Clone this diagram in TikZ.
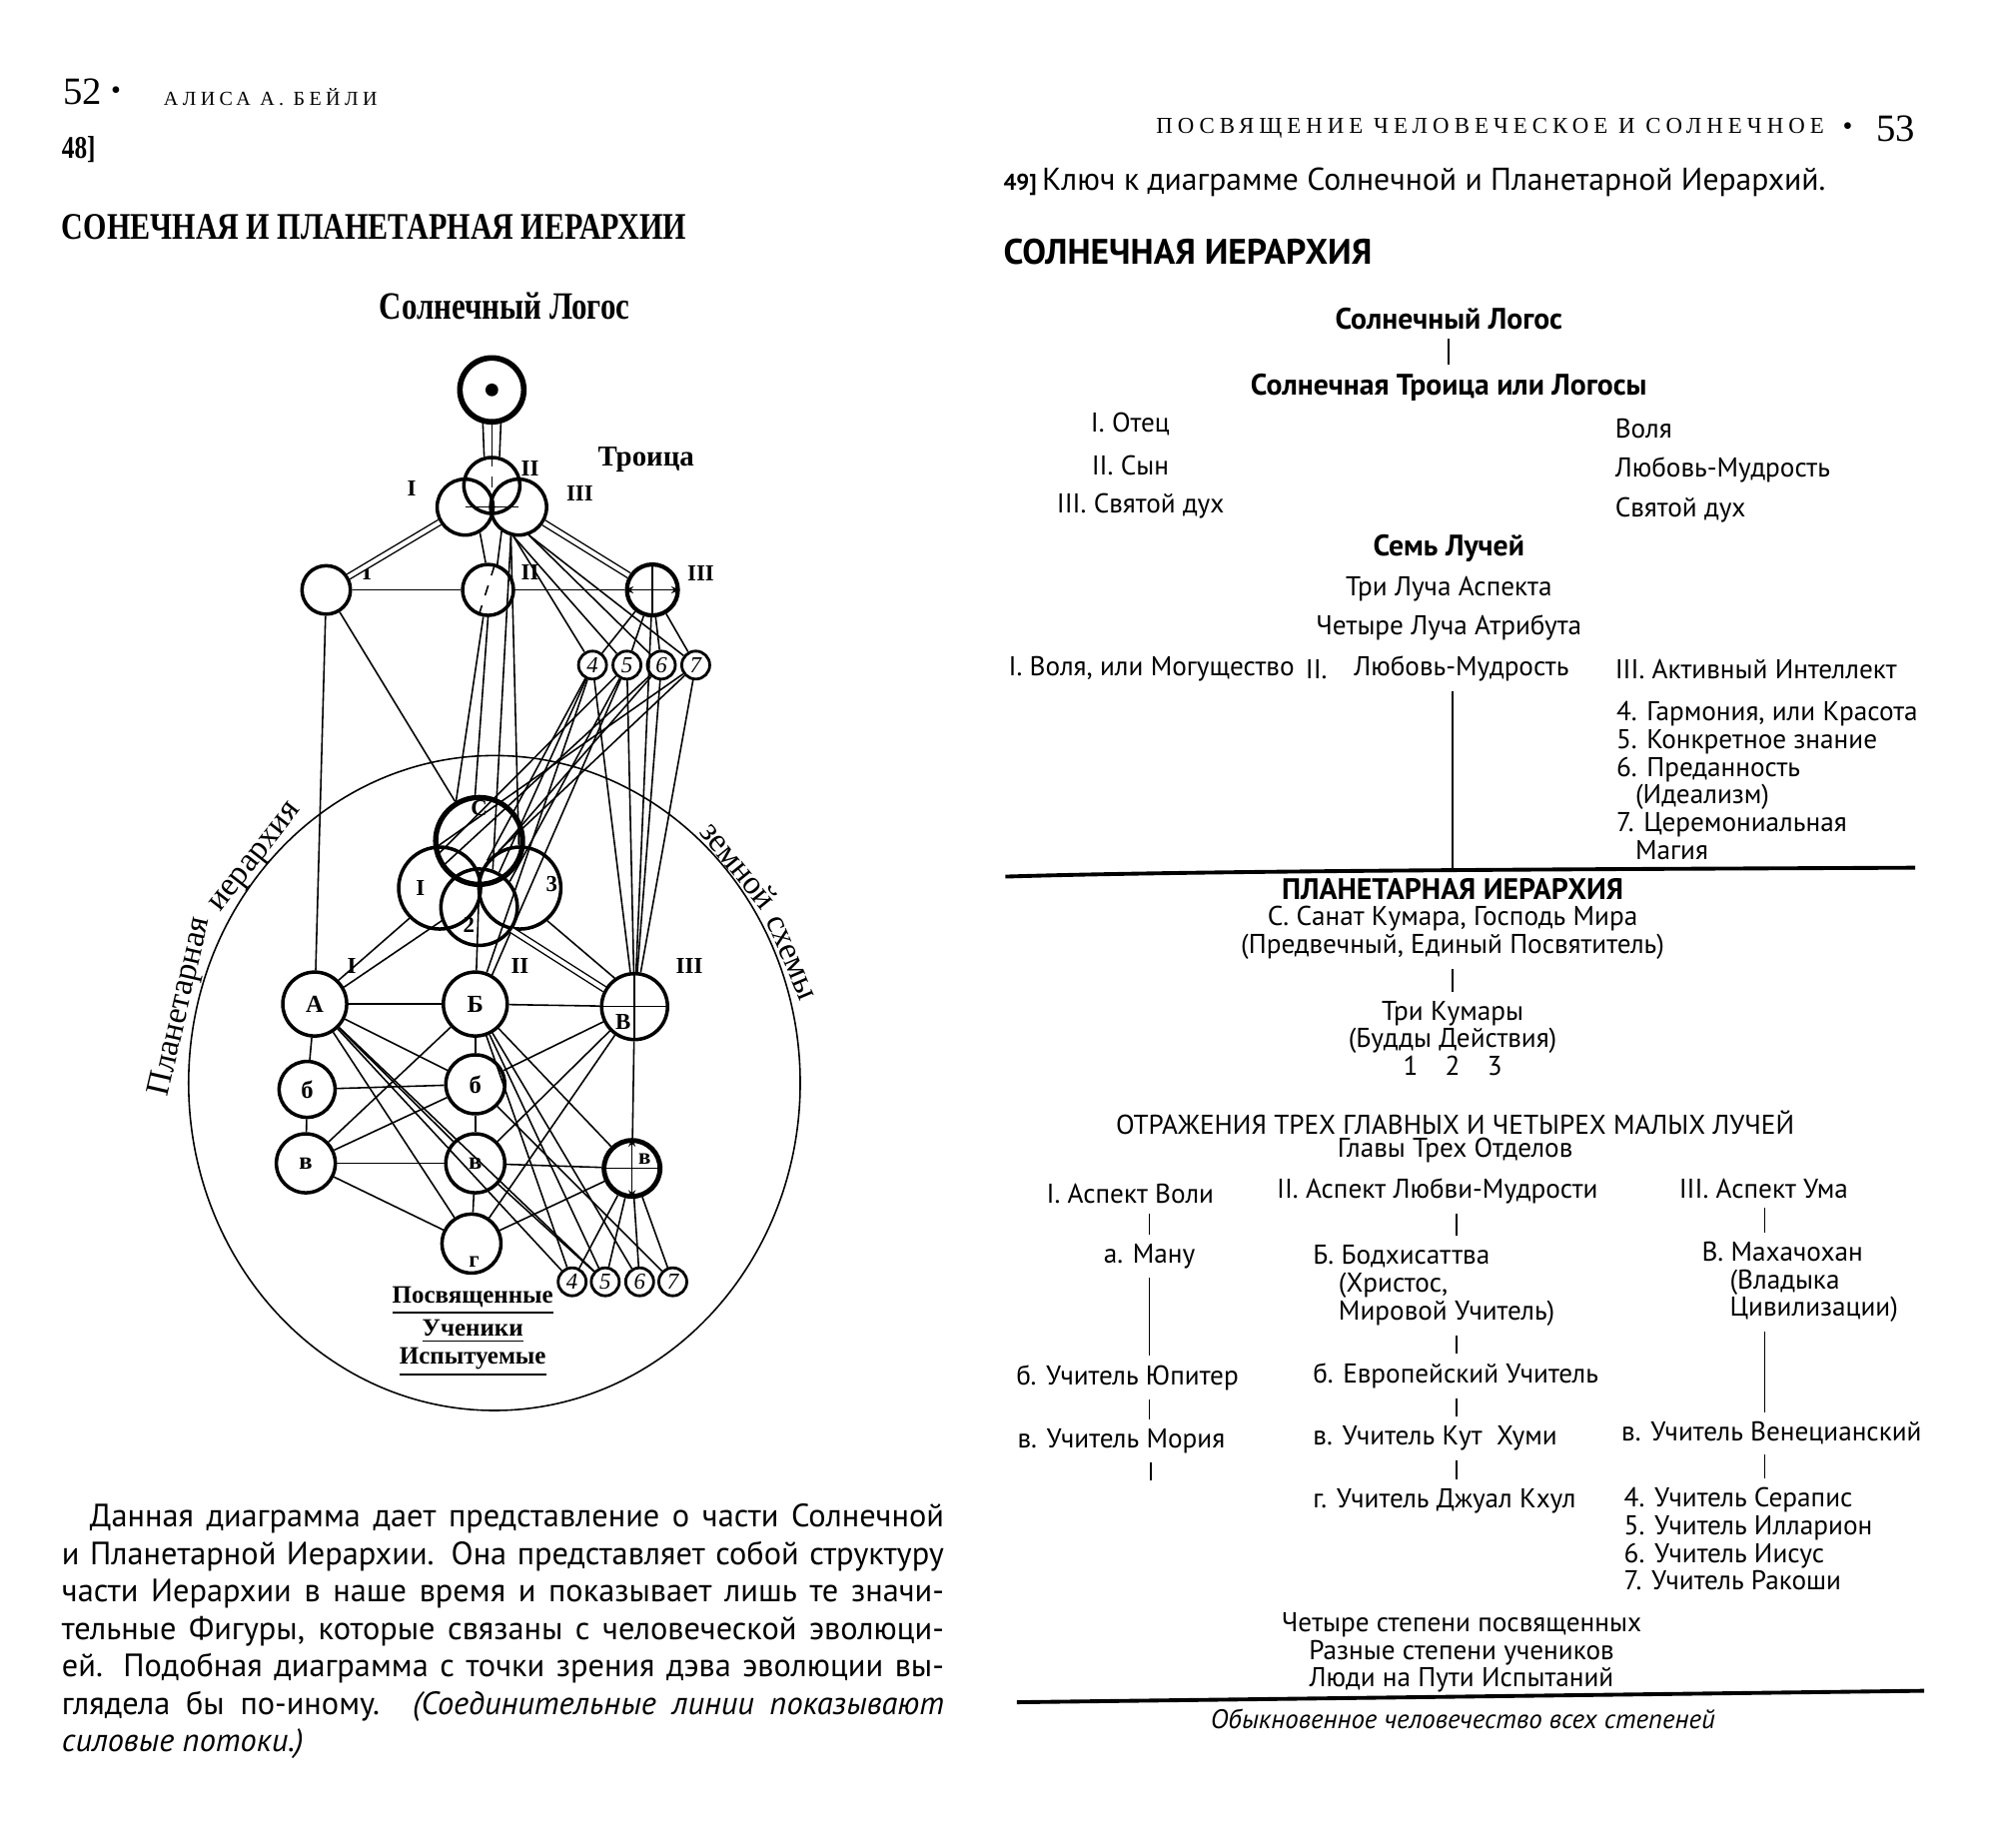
\documentclass[tikz,border=0pt]{standalone}
\usepackage{fontspec}
\setmainfont{PT Sans}
\newfontfamily\serifbook{Liberation Serif}
\newfontfamily\serifnarrow{Liberation Serif}[FakeStretch=0.8]
\newfontfamily\serifspaced{Liberation Serif}[LetterSpace=22]
\usetikzlibrary{arrows.meta,positioning}

\begin{document}
\lineskiplimit=-20pt
\lineskip=0pt
\begin{tikzpicture}[x=0.12755mm, y=-0.12755mm,
    >={Stealth[length=2.5pt,width=2pt]},
    wire/.style={line width=0.45pt},
    twin/.style={double, double distance=1.2pt, line width=0.4pt},
    orb/.style={circle, draw, line width=1pt, inner sep=0pt, font=\serifbook\bfseries\fontsize{7}{8}\selectfont},
    numorb/.style={circle, draw, line width=0.8pt, inner sep=0pt, minimum size=2.8mm, font=\serifbook\itshape\fontsize{6.5}{7}\selectfont},
    tag/.style={inner sep=0pt, font=\serifbook\bfseries\fontsize{6.5}{7}\selectfont},
    arcword/.style={inner sep=0pt, font=\serifbook\fontsize{9.5}{10}\selectfont},
    rtxt/.style={inner sep=0pt, font=\fontsize{7.75}{7.9}\selectfont},
    rbold/.style={inner sep=0pt, font=\bfseries\fontsize{8.45}{8}\selectfont},
    rlink/.style={line width=0.5pt, shorten <=2.5pt, shorten >=2.5pt},
    divider/.style={line width=1.1pt}
]
\fill[white] (0,0) rectangle (1568,1450);
\useasboundingbox (0,0) rectangle (1568,1450);

% ---------- left page: heads
\node[inner sep=0pt, font=\serifbook\fontsize{11}{12}\selectfont] (lPg) at (65,72) {52};
\node[inner sep=0pt, font=\serifbook\fontsize{8}{9}\selectfont] (lBul) at (91,73) {•};
\node[inner sep=0pt, anchor=west, font=\serifspaced\fontsize{5.7}{6}\selectfont] (lRun) at (128,76) {АЛИСА А. БЕЙЛИ};
\node[inner sep=0pt, anchor=west, font=\serifnarrow\bfseries\fontsize{9}{10}\selectfont] (l48) at (48,117) {48]};
\node[inner sep=0pt, anchor=west, font=\serifnarrow\bfseries\fontsize{10.7}{12}\selectfont] (lTitle) at (48,178) {СОНЕЧНАЯ И ПЛАНЕТАРНАЯ ИЕРАРХИИ};
\node[inner sep=0pt, font=\serifnarrow\bfseries\fontsize{11}{12}\selectfont] (lLogos) at (396,240) {Солнечный Логос};

% ---------- left page: the diagram
\draw[wire] (388,850) ellipse [x radius=240, y radius=257];
\node[arcword, rotate=77] (wPlan) at (142,790) {Планетарная};
\node[arcword, rotate=52] (wHier) at (202,674) {иерархия};
\node[arcword, rotate=-51] (wEarth) at (580,679) {земной};
\node[arcword, rotate=-67] (wSch) at (620,752) {схемы};

\node[orb, line width=1.6pt, minimum size=6.4mm] (logos) at (386,306) {};
\fill (logos.center) circle [radius=5];
\node[orb, minimum size=5.6mm] (tII) at (386,381) {};
\node[orb, minimum size=5.6mm] (tI) at (365,398) {};
\node[orb, minimum size=5.6mm] (tIII) at (407,398) {};
\node[orb, minimum size=4.85mm] (hI) at (256,463) {};
\node[orb, minimum size=5.1mm] (hII) at (383,463) {};
\node[orb, line width=1.2pt, minimum size=5.1mm] (hIII) at (512,463) {};
\foreach \n/\x in {4/465,5/492,6/519,7/546}
  \node[numorb] (u\n) at (\x,522) {\n};

\node[orb, line width=1.5pt, minimum size=8.7mm] (sC) at (376,660) {};
\node[orb, minimum size=8.2mm] (s1) at (345,697) {};
\node[orb, minimum size=8.2mm] (s3) at (408,697) {};
\node[orb, minimum size=7.65mm] (s2) at (376,712) {};

\node[orb, minimum size=6.4mm] (mA) at (247,788) {А};
\node[orb, minimum size=6.4mm] (mB) at (373,788) {Б};
\node[orb, minimum size=6.6mm] (mV) at (498,790) {};
\node[orb, minimum size=5.6mm] (lb1) at (241,855) {б};
\node[orb, minimum size=5.9mm] (lb2) at (373,851) {б};
\node[orb, minimum size=5.9mm] (lv1) at (240,913) {в};
\node[orb, minimum size=5.9mm] (lv2) at (373,913) {в};
\node[orb, line width=1.4pt, minimum size=5.6mm] (lv3) at (496,917) {};
\node[orb, minimum size=5.9mm] (lg) at (370,976) {};
\foreach \n/\x in {4/449,5/475,6/502,7/528}
  \node[numorb] (d\n) at (\x,1006) {\n};

% labels in and near the circles
\node[tag] (labC) at (376,634) {С};
\node[tag] (labS1) at (330,697) {I};
\node[tag] (labS3) at (433,694) {3};
\node[tag] (labS2) at (368,726) {2};
\node[tag] (labV) at (489,802) {В};
\node[tag] (labv) at (506,910) {в};
\node[tag] (labg) at (372,990) {г};
\node[tag] (rmA) at (323,383) {I};
\node[tag] (rmB) at (416,368) {II};
\node[tag] (rmC) at (455,387) {III};
\node[inner sep=0pt, font=\serifbook\bfseries\fontsize{8.2}{10}\selectfont] (trio) at (507,361) {Троица};
\node[tag] (rm2A) at (288,449) {I};
\node[tag] (rm2B) at (416,449) {II};
\node[tag] (rm2C) at (550,450) {III};
\node[tag] (rm3A) at (276,758) {I};
\node[tag] (rm3B) at (408,758) {II};
\node[tag] (rm3C) at (541,758) {III};

% upper links
\draw[wire] (logos.255) -- (tII.105);
\draw[wire] (logos.270) -- (tII.90);
\draw[wire] (logos.285) -- (tII.75);
\draw[twin] (tI) -- (hI);
\draw[twin] (tIII) -- (hIII);
\draw[wire] (tI.-60) -- (hII.95);
\draw[wire] (tIII.-125) -- (hII.70);
\draw[wire, dashed] (tII.north) -- (tII.south);
\draw[wire] (tI.center) -- (tIII.center);
\draw[wire, dashed] (hII.-110) -- (hII.75);
\draw[wire] (hI) -- (hII);
\draw[wire] (hII) -- (hIII);
\draw[wire, <->] (hIII.west) -- (hIII.east);
\draw[wire] (hIII.north) -- (hIII.south);
\foreach \n in {4,5,6,7} {
  \draw[wire] (hIII) -- (u\n);
  \draw[wire] (u\n) -- (mV);
}
\draw[wire] (tIII.-100) -- (u4);
\draw[wire] (tIII.-100) -- (u5);
\draw[wire] (tIII.-70) -- (u6);
\draw[wire] (tIII.-70) -- (u7);
\draw[wire] (hIII) -- (mV);
\draw[wire] (hI) -- (mA);
\draw[wire] (hI) -- (sC);
\draw[wire] (hII.-100) -- (sC.120);
\draw[wire] (hII.-90) -- (sC.95);
\draw[wire] (tIII.-105) -- (s2.70);
\draw[wire] (tIII.-105) -- (s3);
\draw[wire] (u4) -- (s2.60);
\draw[wire] (u4) -- (s3.140);
\draw[wire] (u5) -- (sC.200);
\draw[wire] (u5) -- (s2.40);
\draw[wire] (u6) -- (sC.215);
\draw[wire] (u6) -- (s3.160);
\draw[wire] (u7) -- (sC.190);
\draw[wire] (u7) -- (s3.120);
\draw[wire] (mB.70) -- (u4);
\draw[wire] (mB.60) -- (u5);

% middle and lower links
\draw[wire] (mA) -- (mB);
\draw[wire] (mB) -- (mV);
\draw[wire] (mV.west) -- (mV.east);
\draw[wire] (mV.north) -- (mV.south);
\draw[wire] (mA.45) -- (s1.225);
\draw[wire] (mA.30) -- (s2.200);
\draw[wire] (sC.south) -- (mB);
\draw[twin] (s2.-35) -- (mV.150);
\draw[wire] (s3.-50) -- (mV.125);
\draw[wire] (mA) -- (lb1);
\draw[wire] (lb1) -- (lv1);
\draw[wire] (mB) -- (lb2);
\draw[wire] (lb2) -- (lv2);
\draw[wire] (lv2) -- (lg);
\draw[wire] (mV) -- (lv3);
\draw[wire] (lb1) -- (lb2);
\draw[wire] (lv1) -- (lv2);
\draw[wire] (lv2) -- (lv3);
\draw[wire, <->] (lv3.north) -- (lv3.south);
\draw[wire] (lv3.west) -- (lv3.east);
\foreach \t in {lb2,lv2,lg,d4,d5}
  \draw[wire] (mA) -- (\t);
\foreach \t in {lv1,lv3,d4,d5,d6}
  \draw[wire] (mB) -- (\t);
\foreach \t in {lb2,lv2,lg}
  \draw[wire] (mV) -- (\t);
\draw[wire] (lb2) -- (lv1);
\draw[wire] (lv1) -- (lg);
\draw[wire] (lb2) -- (d7);
\draw[wire] (lv2) -- (d5);
\draw[wire] (lv3) -- (lg);
\foreach \n in {4,5,6,7}
  \draw[wire] (lv3) -- (d\n);

\node[inner sep=0pt, font=\serifbook\bfseries\fontsize{7.1}{9}\selectfont] (gInit) at (371,1021) {\underline{Посвященные}};
\node[inner sep=0pt, font=\serifbook\bfseries\fontsize{7.1}{9}\selectfont] (gDisc) at (371,1045) {\underline{Ученики}};
\node[inner sep=0pt, font=\serifbook\bfseries\fontsize{7.1}{9}\selectfont] (gProb) at (371,1069) {\underline{Испытуемые}};

% ---------- left page: note
\node[inner sep=0pt, anchor=north west, align=left, font=\fontsize{9.2}{10.65}\selectfont] (note) at (48,1180) {%
\makebox[88.3mm][s]{\hspace*{2.8mm}Данная диаграмма дает представление о части Солнечной}\\
\makebox[88.3mm][s]{и Планетарной Иерархии. Она представляет собой структуру}\\
\makebox[88.3mm][s]{части Иерархии в наше время и показывает лишь те значи-}\\
\makebox[88.3mm][s]{тельные Фигуры, которые связаны с человеческой эволюци-}\\
\makebox[88.3mm][s]{ей. Подобная диаграмма с точки зрения дэва эволюции вы-}\\
\makebox[88.3mm][s]{глядела бы по-иному. \textit{(Соединительные линии показывают}}\\
\textit{силовые потоки.)}};

% ---------- right page
\node[inner sep=0pt, anchor=east, font=\serifspaced\fontsize{6.5}{7}\selectfont] (rRun) at (1432,101) {ПОСВЯЩЕНИЕ ЧЕЛОВЕЧЕСКОЕ И СОЛНЕЧНОЕ};
\node[inner sep=0pt, font=\serifbook\fontsize{8}{9}\selectfont] (rBul) at (1450,101) {•};
\node[inner sep=0pt, font=\serifbook\fontsize{11}{12}\selectfont] (rPg) at (1488,101) {53};
\node[inner sep=0pt, anchor=west, font=\fontsize{9}{10}\selectfont] (rKey) at (787,143) {{\bfseries\fontsize{6.5}{7}\selectfont 49]}\,Ключ к диаграмме Солнечной и Планетарной Иерархий.};
\node[inner sep=0pt, anchor=west, font=\bfseries\fontsize{10.1}{11}\selectfont] (rTitle) at (787,198) {СОЛНЕЧНАЯ ИЕРАРХИЯ};

\node[rbold] (rLogos) at (1137,250) {Солнечный Логос};
\node[rbold] (rTriad) at (1137,304) {Солнечная Троица или Логосы};
\draw[rlink] (rLogos) -- (rTriad);
\node[rtxt] (rFather) at (887,333) {I. Отец};
\node[rtxt] (rSon) at (887,365) {II. Сын};
\node[rtxt] (rGhost) at (895,397) {III. Святой дух};
\node[rtxt, anchor=west] (rWill) at (1267,336) {Воля};
\node[rtxt, anchor=west] (rWisdom) at (1267,369) {Любовь-Мудрость};
\node[rtxt, anchor=west] (rSpirit) at (1267,400) {Святой дух};
\node[rbold] (rSeven) at (1137,430) {Семь Лучей};
\node[rtxt] (rAspect) at (1137,462) {Три Луча Аспекта};
\node[rtxt] (rAttr) at (1137,493) {Четыре Луча Атрибута};
\node[rtxt, anchor=west] (rRay1) at (791,525) {I. Воля, или Могущество};
\node[rtxt, anchor=west] (rRay2) at (1024,525) {II.};
\node[rtxt, anchor=west] (rLove) at (1062,525) {Любовь-Мудрость};
\node[rtxt, anchor=west] (rRay3) at (1267,525) {III. Активный Интеллект};
\node[rtxt, anchor=north west, align=left] (rMinor) at (1268,550) {4. Гармония, или Красота\\5. Конкретное знание\\6. Преданность\\\hspace*{1.9mm}(Идеализм)\\7. Церемониальная\\\hspace*{1.9mm}Магия};

\coordinate (divL) at (789,688);
\coordinate (divR) at (1503,681);
\coordinate (stem) at (1140,684);
\draw[divider] (divL) .. controls (950,683) and (1300,682) .. (divR);
\draw[line width=0.5pt, shorten <=2.5pt] (rLove.south -| stem) -- (stem);

\node[rbold] (rPlan) at (1140,698) {ПЛАНЕТАРНАЯ ИЕРАРХИЯ};
\node[rtxt] (rSanat) at (1140,721) {С. Санат Кумара, Господь Мира};
\node[rtxt] (rEternal) at (1140,743) {(Предвечный, Единый Посвятитель)};
\node[rtxt, align=center] (rKumar) at (1140,815) {Три Кумары\\(Будды Действия)\\1\quad 2\quad 3};
\draw[rlink] (rEternal) -- (rKumar);
\node[rtxt] (rRefl) at (1142,881) {ОТРАЖЕНИЯ ТРЕХ ГЛАВНЫХ И ЧЕТЫРЕХ МАЛЫХ ЛУЧЕЙ};
\node[rtxt] (rHeads) at (1142,903) {Главы Трех Отделов};

% column I
\coordinate (x1) at (902,0);
\node[rtxt] (cWill) at (887,937) {I. Аспект Воли};
\node[rtxt] (cManu) at (902,986) {а. Ману};
\node[rtxt, anchor=west] (cJup) at (797,1081) {б. Учитель Юпитер};
\node[rtxt, anchor=west] (cMor) at (798,1131) {в. Учитель Мория};
\coordinate (c1end) at (903,1162);
\draw[rlink] (cWill.south -| x1) -- (cManu.north -| x1);
\draw[rlink] (cManu.south -| x1) -- (cJup.north -| x1);
\draw[rlink] (cJup.south -| x1) -- (cMor.north -| x1);
\draw[rlink, shorten >=0pt] (cMor.south -| c1end) -- (c1end);

% column II
\coordinate (x2) at (1143,0);
\node[rtxt] (cLove) at (1128,935) {II. Аспект Любви-Мудрости};
\node[rtxt, anchor=north west, align=left] (cBod) at (1030,977) {Б. Бодхисаттва\\\hspace*{2.55mm}(Христос,\\\hspace*{2.55mm}Мировой Учитель)};
\node[rtxt, anchor=west] (cEur) at (1030,1080) {б. Европейский Учитель};
\node[rtxt, anchor=west] (cKut) at (1030,1129) {в. Учитель Кут~~Хуми};
\node[rtxt, anchor=west] (cDjw) at (1030,1178) {г. Учитель Джуал Кхул};
\draw[rlink] (cLove.south -| x2) -- (cBod.north -| x2);
\draw[rlink] (cBod.south -| x2) -- (cEur.north -| x2);
\draw[rlink] (cEur.south -| x2) -- (cKut.north -| x2);
\draw[rlink] (cKut.south -| x2) -- (cDjw.north -| x2);

% column III
\coordinate (x3) at (1385,0);
\node[rtxt] (cMind) at (1384,933) {III. Аспект Ума};
\node[rtxt, anchor=north west, align=left] (cMah) at (1335,974) {В. Махачохан\\\hspace*{2.8mm}(Владыка\\\hspace*{2.8mm}Цивилизации)};
\node[rtxt, anchor=west] (cVen) at (1272,1125) {в. Учитель Венецианский};
\node[rtxt, anchor=north west, align=left] (cMasters) at (1274,1167) {4. Учитель Серапис\\5. Учитель Илларион\\6. Учитель Иисус\\7. Учитель Ракоши};
\draw[rlink] (cMind.south -| x3) -- (cMah.north -| x3);
\draw[rlink] (cMah.south -| x3) -- (cVen.north -| x3);
\draw[rlink] (cVen.south -| x3) -- (cMasters.north -| x3);

\node[rtxt, align=center] (rGrades) at (1147,1297) {Четыре степени посвященных\\Разные степени учеников\\Люди на Пути Испытаний};
\coordinate (baseL) at (798,1336);
\coordinate (baseR) at (1510,1327);
\draw[divider] (baseL) -- (baseR);
\node[rtxt, font=\itshape\fontsize{7.65}{7.9}\selectfont] (rCommon) at (1148,1349) {Обыкновенное человечество всех степеней};
\end{tikzpicture}
\end{document}
